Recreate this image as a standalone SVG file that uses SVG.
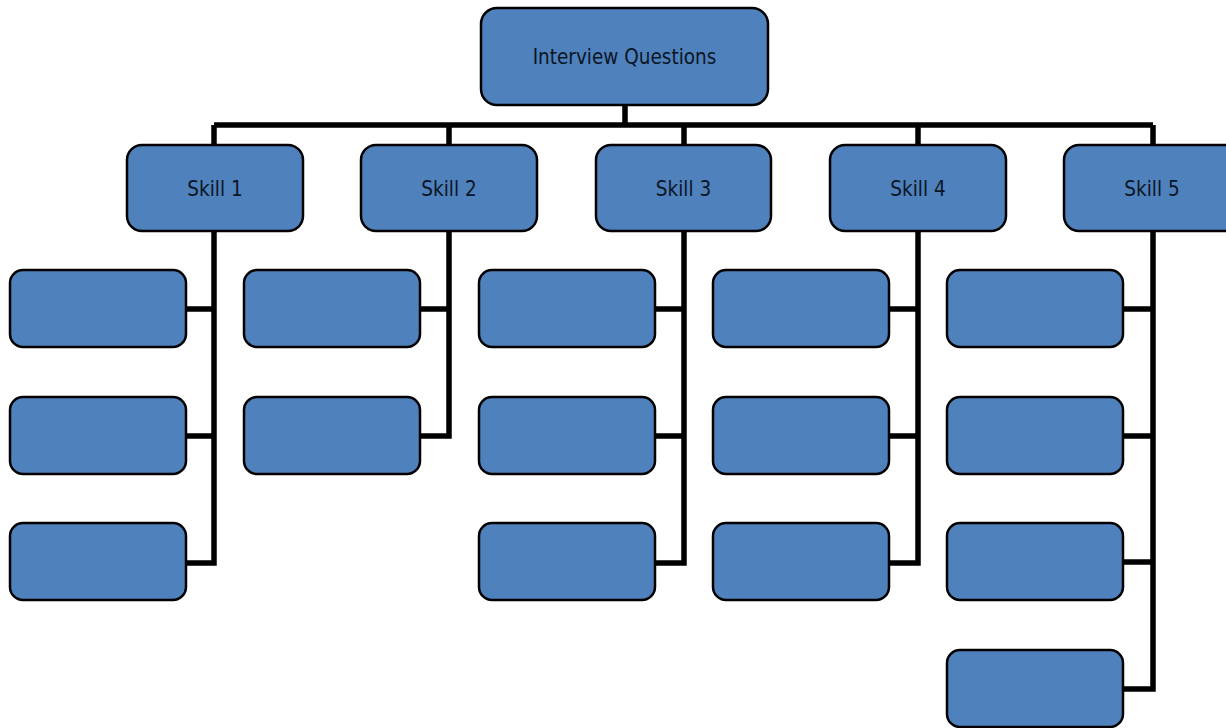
<svg xmlns="http://www.w3.org/2000/svg" width="1226" height="728" viewBox="0 0 1226 728">
<style>
.box{fill:#4f81bd;stroke:#000;stroke-width:2.5}
.lbl{font-family:"DejaVu Sans Condensed","DejaVu Sans",Tahoma,sans-serif;font-stretch:condensed;font-size:20.5px;fill:#0b1624;text-anchor:middle;dominant-baseline:central}
.ln{fill:none;stroke:#000;stroke-width:5.5;stroke-linejoin:miter;stroke-linecap:butt}
</style>
<defs>
<rect id="child" class="box" width="176" height="77" rx="13"/>
</defs>
<g id="connectors">
<path class="ln" d="M625 105V125M214 125H1153M214 125V145M449 125V145M684 125V145M918 125V145M1153 125V145"/>
<path class="ln" d="M214 231V563H186M186 309H214M186 436H214"/>
<path class="ln" d="M449 231V436H420M420 309H449"/>
<path class="ln" d="M684 231V563H654M654 309H684M654 436H684"/>
<path class="ln" d="M918 231V563H889M889 309H918M889 436H918"/>
<path class="ln" d="M1153 231V689H1123M1123 309H1153M1123 436H1153M1123 562H1153"/>
</g>
<g id="root"><rect class="box" x="481" y="8" width="287" height="97" rx="16"/><text class="lbl" x="624.5" y="57">Interview Questions</text></g>
<g id="skill1"><rect class="box" x="127" y="145" width="176" height="86" rx="15"/><text class="lbl" x="215" y="189">Skill 1</text></g>
<g id="skill2"><rect class="box" x="361" y="145" width="176" height="86" rx="15"/><text class="lbl" x="449" y="189">Skill 2</text></g>
<g id="skill3"><rect class="box" x="596" y="145" width="175" height="86" rx="15"/><text class="lbl" x="683.5" y="189">Skill 3</text></g>
<g id="skill4"><rect class="box" x="830" y="145" width="176" height="86" rx="15"/><text class="lbl" x="918" y="189">Skill 4</text></g>
<g id="skill5"><rect class="box" x="1064" y="145" width="176" height="86" rx="15"/><text class="lbl" x="1152" y="189">Skill 5</text></g>
<g id="s1c1"><use href="#child" x="10" y="270"/></g>
<g id="s1c2"><use href="#child" x="10" y="397"/></g>
<g id="s1c3"><use href="#child" x="10" y="523"/></g>
<g id="s2c1"><use href="#child" x="244" y="270"/></g>
<g id="s2c2"><use href="#child" x="244" y="397"/></g>
<g id="s3c1"><use href="#child" x="479" y="270"/></g>
<g id="s3c2"><use href="#child" x="479" y="397"/></g>
<g id="s3c3"><use href="#child" x="479" y="523"/></g>
<g id="s4c1"><use href="#child" x="713" y="270"/></g>
<g id="s4c2"><use href="#child" x="713" y="397"/></g>
<g id="s4c3"><use href="#child" x="713" y="523"/></g>
<g id="s5c1"><use href="#child" x="947" y="270"/></g>
<g id="s5c2"><use href="#child" x="947" y="397"/></g>
<g id="s5c3"><use href="#child" x="947" y="523"/></g>
<g id="s5c4"><use href="#child" x="947" y="650"/></g>
</svg>
